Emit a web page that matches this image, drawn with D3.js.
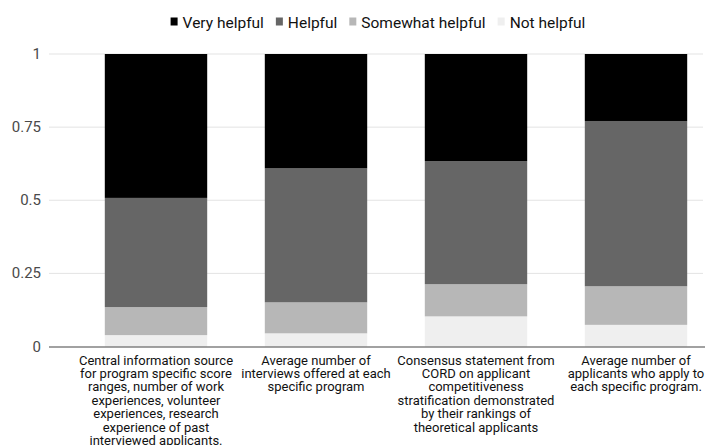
<!DOCTYPE html>
<html>
<head>
<meta charset="utf-8">
<script src="https://cdn.jsdelivr.net/npm/d3@7"></script>
<style>
  body { margin: 0; background: #fff; }
  svg { font-family: Roboto, sans-serif; }
</style>
</head>
<body>
<svg id="chart" width="705" height="445"></svg>
<script>
// categories, one line per entry as wrapped in the picture
var categories = [
    'Central information source\nfor program specific score\nranges, number of work\nexperiences, volunteer\nexperiences, research\nexperience of past\ninterviewed applicants.',
    'Average number of\ninterviews offered at each\nspecific program',
    'Consensus statement from\nCORD on applicant\ncompetitiveness\nstratification demonstrated\nby their rankings of\ntheoretical applicants',
    'Average number of\napplicants who apply to\neach specific program.'
];
var seriesNames = ['Very helpful', 'Helpful', 'Somewhat helpful', 'Not helpful'];
var notHelpful      = [0.039, 0.045, 0.103, 0.074];
var somewhatHelpful = [0.096, 0.106, 0.110, 0.132];
var helpful         = [0.373, 0.458, 0.421, 0.565];
var veryHelpful     = [0.492, 0.391, 0.366, 0.229];
var yTicks = [0, 0.25, 0.5, 0.75, 1];
var yTickLabels = ['0', '0.25', '0.5', '0.75', '1'];

var colors = {
    'Very helpful': '#000000',
    'Helpful': '#666666',
    'Somewhat helpful': '#b7b7b7',
    'Not helpful': '#efefef'
};

// stacking order bottom -> top
var stackOrder = ['Not helpful', 'Somewhat helpful', 'Helpful', 'Very helpful'];
var rows = categories.map(function(c, i) {
    return {
        cat: c,
        'Not helpful': notHelpful[i],
        'Somewhat helpful': somewhatHelpful[i],
        'Helpful': helpful[i],
        'Very helpful': veryHelpful[i]
    };
});

var svg = d3.select('#chart');

var gridLeft = 49;
var gridRight = 703;

var x = d3.scaleBand()
    .domain(categories)
    .range([76, 716])
    .paddingInner(0.36)
    .paddingOuter(0.18);

var y = d3.scaleLinear()
    .domain([0, 1])
    .range([346.5, 54]);

// gridlines
svg.append('g').selectAll('line')
    .data(yTicks.filter(function(t) { return t > 0; }))
    .enter().append('line')
    .attr('x1', gridLeft)
    .attr('x2', gridRight)
    .attr('y1', function(t) { return y(t); })
    .attr('y2', function(t) { return y(t); })
    .attr('stroke', '#e3e3e3')
    .attr('stroke-width', 1);

// y tick labels
svg.append('g').selectAll('text')
    .data(yTicks)
    .enter().append('text')
    .attr('x', 41)
    .attr('y', function(t) { return y(t) + 5; })
    .attr('text-anchor', 'end')
    .attr('font-size', 15)
    .attr('fill', '#4a4a4a')
    .text(function(t, i) { return yTickLabels[i]; });

// stacked bars
var stack = d3.stack().keys(stackOrder)(rows);

svg.append('g').selectAll('g')
    .data(stack)
    .enter().append('g')
    .attr('fill', function(s) { return colors[s.key]; })
    .selectAll('rect')
    .data(function(s) { return s; })
    .enter().append('rect')
    .attr('x', function(d) { return x(d.data.cat); })
    .attr('width', x.bandwidth())
    .attr('y', function(d) { return y(d[1]); })
    .attr('height', function(d) { return y(d[0]) - y(d[1]); });

// zero axis
svg.append('line')
    .attr('x1', gridLeft)
    .attr('x2', 705)
    .attr('y1', y(0) + 0.5)
    .attr('y2', y(0) + 0.5)
    .attr('stroke', '#444')
    .attr('stroke-width', 1.2);

// category labels
var catLabel = svg.append('g').selectAll('text')
    .data(categories)
    .enter().append('text')
    .attr('text-anchor', 'middle')
    .attr('font-size', 13)
    .attr('fill', '#111')
    .attr('transform', function(c) { return 'translate(' + (x(c) + x.bandwidth() / 2) + ',364.5)'; });

catLabel.selectAll('tspan')
    .data(function(c) { return c.split('\n'); })
    .enter().append('tspan')
    .attr('x', 0)
    .attr('y', function(l, i) { return i * 13.4; })
    .text(function(l) { return l; });

// legend
var legend = svg.append('g');
var lx = 0;
seriesNames.forEach(function(name) {
    var item = legend.append('g').attr('transform', 'translate(' + lx + ',0)');
    item.append('rect')
        .attr('x', 0)
        .attr('y', -10)
        .attr('width', 7)
        .attr('height', 8)
        .attr('fill', colors[name]);
    var t = item.append('text')
        .attr('x', 12)
        .attr('y', 0)
        .attr('font-size', 15.5)
        .attr('fill', '#111')
        .text(name);
    lx += 12 + t.node().getComputedTextLength() + 12;
});
var legendWidth = lx - 12;
legend.attr('transform', 'translate(' + (378 - legendWidth / 2) + ',27.5)');
</script>
</body>
</html>
